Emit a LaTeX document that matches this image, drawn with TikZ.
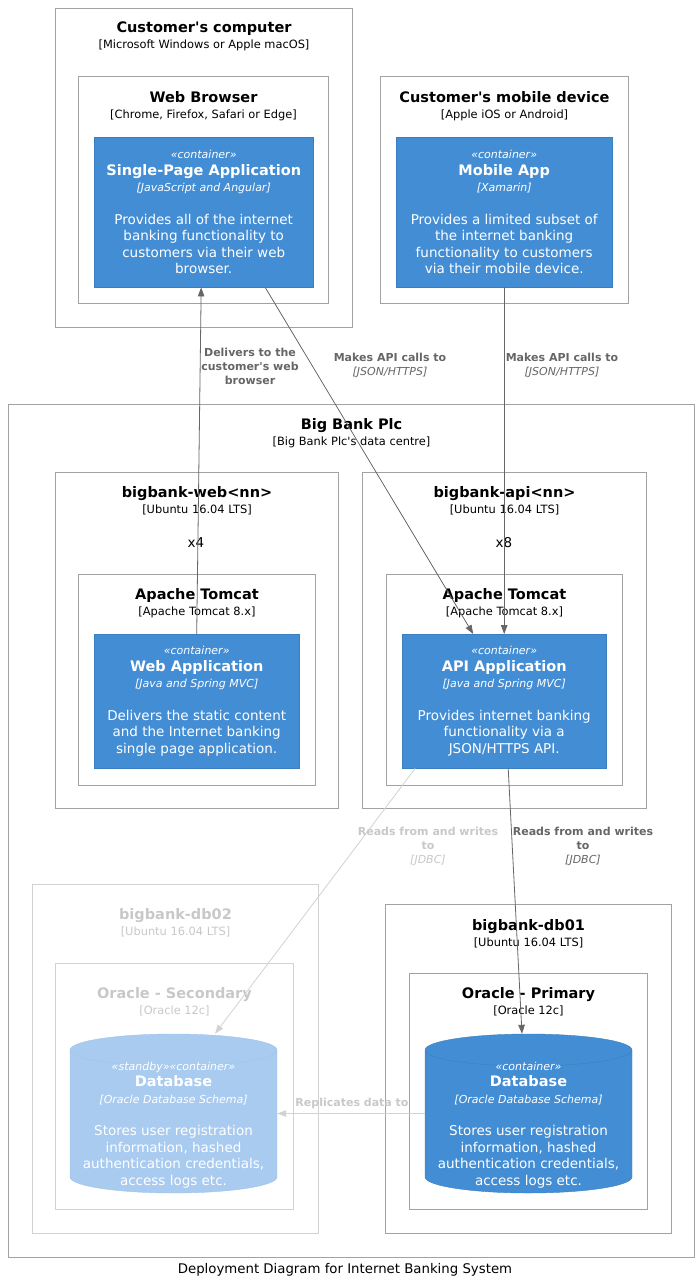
\documentclass[tikz,border=0pt]{standalone}
\usepackage{fontspec}
\setmainfont{DejaVu Sans}
\usepackage{xcolor}
\usetikzlibrary{shapes, arrows.meta, positioning}

\definecolor{boxline}{HTML}{A2A2A2}
\definecolor{fadedline}{HTML}{D2D2D2}
\definecolor{fadedtext}{HTML}{C8C8C8}
\definecolor{containerblue}{HTML}{438DD5}
\definecolor{containerline}{HTML}{3C7FC0}
\definecolor{standbyblue}{HTML}{A9CBEF}
\definecolor{standbyline}{HTML}{A0C4EC}
\definecolor{edgegray}{HTML}{666666}

\newcommand{\hd}[1]{{\fontsize{14.5}{16}\selectfont\bfseries #1}}
\newcommand{\kind}[1]{{\fontsize{11}{14}\selectfont\itshape «#1»}}
\newcommand{\techi}[1]{{\fontsize{11}{14}\selectfont\mdseries\itshape [#1]}}
\newcommand{\q}{\textquotesingle}

\begin{document}
\begin{tikzpicture}[
                x=1pt, y=-1pt,
                nodebox/.style={draw=boxline, line width=1pt, anchor=north west, inner sep=0pt},
                fadedbox/.style={nodebox, draw=fadedline},
                title/.style={align=center, inner sep=0pt, font=\fontsize{11.4}{16}\selectfont},
                container/.style={draw=containerline, fill=containerblue, text=white, align=center, anchor=north west, inner sep=0pt, font=\fontsize{13.5}{16.5}\selectfont},
                database/.style={cylinder, shape border rotate=90, aspect=0.16, text width=200pt, anchor=shape center, draw=containerline, fill=containerblue, minimum width=207, minimum height=159, inner sep=0pt},
                dbtext/.style={text=white, align=center, inner sep=0pt, font=\fontsize{13.5}{16.5}\selectfont},
                flow/.style={draw=edgegray, line width=0.8pt, -{Triangle[length=9pt, width=6.5pt]}},
                fadedflow/.style={flow, draw=fadedline},
                flowlabel/.style={align=center, inner sep=0pt, text=edgegray, font=\fontsize{11}{14}\selectfont\bfseries}
            ]
                \useasboundingbox (0,0) rectangle (700,1283);

                % customer side
                \node[nodebox, minimum width=297, minimum height=319] (computer) at (55,8) {};
                \node[title, below=14pt of computer.north] {\hd{Customer\q s computer}\\{[Microsoft Windows or Apple macOS]}};
                \node[nodebox, minimum width=250, minimum height=227] (browser) at (78,76) {};
                \node[title, below=15pt of browser.north] {\hd{Web Browser}\\{[Chrome, Firefox, Safari or Edge]}};
                \node[container, minimum width=219, minimum height=150] (spa) at (94,137) {\kind{container}\\\hd{Single-Page Application}\\\techi{JavaScript and Angular}\\[16pt]Provides all of the internet\\banking functionality to\\customers via their web\\browser.};

                \node[nodebox, minimum width=248, minimum height=227] (mobile) at (380,76) {};
                \node[title, below=15pt of mobile.north] {\hd{Customer\q s mobile device}\\{[Apple iOS or Android]}};
                \node[container, minimum width=216, minimum height=150] (app) at (396,137) {\kind{container}\\\hd{Mobile App}\\\techi{Xamarin}\\[16pt]Provides a limited subset of\\the internet banking\\functionality to customers\\via their mobile device.};

                % data centre
                \node[nodebox, minimum width=686, minimum height=853] (bank) at (8,404) {};
                \node[title, below=14pt of bank.north] {\hd{Big Bank Plc}\\{[Big Bank Plc\q s data centre]}};

                \node[nodebox, minimum width=283, minimum height=336] (webhost) at (55,472) {};
                \node[title, below=14pt of webhost.north] {\hd{bigbank-web<nn>}\\{[Ubuntu 16.04 LTS]}};
                \node[font=\fontsize{13.5}{16}\selectfont, inner sep=0pt] (webcount) at (196,543) {x4};
                \node[nodebox, minimum width=237, minimum height=211] (webtomcat) at (78,574) {};
                \node[title, below=14pt of webtomcat.north] {\hd{Apache Tomcat}\\{[Apache Tomcat 8.x]}};
                \node[container, minimum width=205, minimum height=134] (webapp) at (94,634) {\kind{container}\\\hd{Web Application}\\\techi{Java and Spring MVC}\\[16pt]Delivers the static content\\and the Internet banking\\single page application.};

                \node[nodebox, minimum width=284, minimum height=336] (apihost) at (362,472) {};
                \node[title, below=14pt of apihost.north] {\hd{bigbank-api<nn>}\\{[Ubuntu 16.04 LTS]}};
                \node[font=\fontsize{13.5}{16}\selectfont, inner sep=0pt] (apicount) at (504,543) {x8};
                \node[nodebox, minimum width=236, minimum height=211] (apitomcat) at (386,574) {};
                \node[title, below=14pt of apitomcat.north] {\hd{Apache Tomcat}\\{[Apache Tomcat 8.x]}};
                \node[container, minimum width=204, minimum height=134] (api) at (402,634) {\kind{container}\\\hd{API Application}\\\techi{Java and Spring MVC}\\[16pt]Provides internet banking\\functionality via a\\JSON/HTTPS API.};

                \node[fadedbox, minimum width=286, minimum height=349] (dbsechost) at (32,884) {};
                \node[title, text=fadedtext, below=24pt of dbsechost.north] {\hd{bigbank-db02}\\{[Ubuntu 16.04 LTS]}};
                \node[fadedbox, minimum width=238, minimum height=246] (dbsecoracle) at (55,963) {};
                \node[title, text=fadedtext, below=24pt of dbsecoracle.north] {\hd{Oracle - Secondary}\\{[Oracle 12c]}};
                \node[database, draw=standbyline, fill=standbyblue] (dbsec) at (173.5,1113.5) {};
                \node[dbtext] (dbsectext) at (173.5,1125) {\kind{standby}\kind{container}\\\hd{Database}\\\techi{Oracle Database Schema}\\[16pt]Stores user registration\\information, hashed\\authentication credentials,\\access logs etc.};

                \node[nodebox, minimum width=286, minimum height=329] (dbprihost) at (385,904) {};
                \node[title, below=15pt of dbprihost.north] {\hd{bigbank-db01}\\{[Ubuntu 16.04 LTS]}};
                \node[nodebox, minimum width=238, minimum height=236] (dbprioracle) at (409,973) {};
                \node[title, below=14pt of dbprioracle.north] {\hd{Oracle - Primary}\\{[Oracle 12c]}};
                \node[database] (dbpri) at (528.5,1113.5) {};
                \node[dbtext] (dbpritext) at (528.5,1125) {\kind{container}\\\hd{Database}\\\techi{Oracle Database Schema}\\[16pt]Stores user registration\\information, hashed\\authentication credentials,\\access logs etc.};

                % connectors
                \draw[flow] (webapp.north) -- ([xshift=-2.5]spa.south);
                \draw[flow] ([xshift=61.5]spa.south) -- ([xshift=-31]api.north);
                \draw[flow] (app.south) -- (api.north);
                \draw[fadedflow] ([xshift=-89]api.south) -- ([xshift=41.5]dbsec.north);
                \draw[flow] ([xshift=4]api.south) -- ([xshift=-6.5]dbpri.north);
                \draw[fadedflow] (dbpri.shape center -| dbpri.west) -- (dbsec.shape center -| dbsec.east);

                \node[flowlabel] (deliverslbl) at (250,366) {Delivers to the\\customer\q s web\\browser};
                \node[flowlabel] (spacallslbl) at (390,365) {Makes API calls to\\\techi{JSON/HTTPS}};
                \node[flowlabel] (appcallslbl) at (562,365) {Makes API calls to\\\techi{JSON/HTTPS}};
                \node[flowlabel, text=fadedtext] (secreadslbl) at (428,846) {Reads from and writes\\to\\\techi{JDBC}};
                \node[flowlabel] (prireadslbl) at (583,846) {Reads from and writes\\to\\\techi{JDBC}};
                \node[flowlabel, text=fadedtext] (replicateslbl) at (352,1103) {Replicates data to};

                \node[font=\fontsize{13.3}{15}\selectfont, inner sep=0pt] (caption) at (345,1270) {Deployment Diagram for Internet Banking System};
            \end{tikzpicture}
\end{document}
